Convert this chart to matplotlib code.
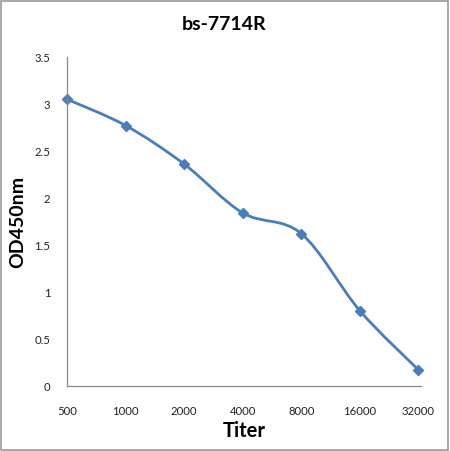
import numpy as np
import matplotlib
matplotlib.use("Agg")
import matplotlib.pyplot as plt
from matplotlib.path import Path
from matplotlib.patches import PathPatch, Rectangle

titers = ["500", "1000", "2000", "4000", "8000", "16000", "32000"]
od450 = [3.05, 2.77, 2.36, 1.84, 1.62, 0.80, 0.17]

plt.rcParams['font.family'] = ['Lato', 'DejaVu Sans']
blue = "#4A7EBB"

fig = plt.figure(figsize=(4.5, 4.52), dpi=100)
ax = fig.add_axes([0.149, 0.1445, 0.787, 0.7272])

x = np.arange(len(od450))
y = np.array(od450)

# smoothed line like Excel (Catmull-Rom style bezier)
px = np.concatenate([[x[0]], x, [x[-1]]])
py = np.concatenate([[y[0]], y, [y[-1]]])
verts = [(x[0], y[0])]
codes = [Path.MOVETO]
for i in range(1, len(px) - 2):
    c1 = (px[i] + (px[i + 1] - px[i - 1]) / 6, py[i] + (py[i + 1] - py[i - 1]) / 6)
    c2 = (px[i + 1] - (px[i + 2] - px[i]) / 6, py[i + 1] - (py[i + 2] - py[i]) / 6)
    verts += [c1, c2, (px[i + 1], py[i + 1])]
    codes += [Path.CURVE4] * 3
ax.add_patch(PathPatch(Path(verts, codes), fill=False, edgecolor=blue, lw=2.0,
                       capstyle='round', joinstyle='round', clip_on=False))
ax.plot(x, y, linestyle='none', marker='D', ms=5.5, color=blue, clip_on=False)

ax.set_xlim(0, 6.05)
ax.set_ylim(0, 3.5)
ax.set_yticks(np.arange(0, 3.51, 0.5))
ax.set_yticklabels(["0", "0.5", "1", "1.5", "2", "2.5", "3", "3.5"])
ax.set_xticks(x)
ax.set_xticklabels(titers)
ax.tick_params(axis='both', length=0, labelsize=8.2, colors='#222222')
ax.tick_params(axis='y', pad=12)
ax.tick_params(axis='x', pad=14)
for s in ['top', 'right']:
    ax.spines[s].set_visible(False)
for s in ['left', 'bottom']:
    ax.spines[s].set_color('#888888')
    ax.spines[s].set_linewidth(0.9)

ax.set_ylabel("OD450nm", fontsize=14, fontweight='bold', labelpad=6)
ax.set_xlabel("Titer", fontsize=14.5, fontweight='bold', labelpad=3)
fig.text(0.498, 0.945, "bs-7714R", ha='center', va='center', fontsize=14, fontweight='bold')

fig.patches.append(Rectangle((0.003, 0.003), 0.993, 0.993, transform=fig.transFigure,
                             fill=False, edgecolor='#999999', lw=1.2))

fig.savefig("out.png", dpi=100)
